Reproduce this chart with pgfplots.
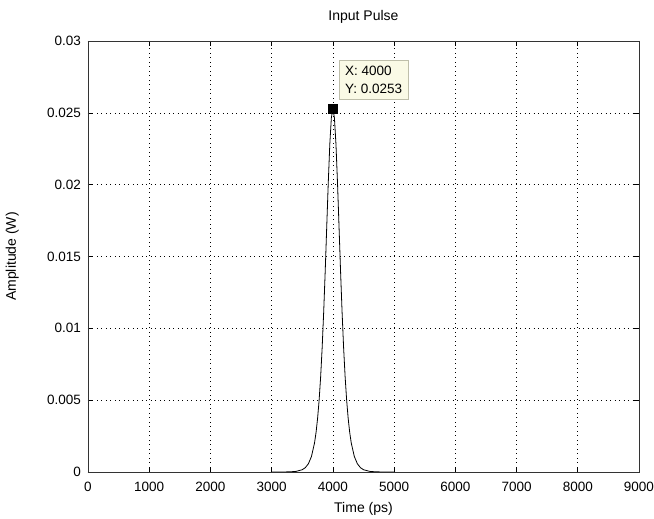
\documentclass[border=0pt]{standalone}
\usepackage{pgfplots}
\pgfplotsset{compat=1.18}
\usepackage{fontspec}
\setmainfont{Liberation Sans}

\definecolor{tipfill}{RGB}{250,250,230}
\definecolor{tipedge}{RGB}{190,190,170}

\begin{document}
\begin{tikzpicture}
\begin{axis}[
    name=ax,
    at={(0,0)}, anchor=south west,
    width=551pt, height=431pt, scale only axis,
    xmin=0, xmax=9000, ymin=0, ymax=0.03,
    xtick={0,1000,...,9000},
    xticklabels={0,1000,2000,3000,4000,5000,6000,7000,8000,9000},
    ytick={0,0.005,0.01,0.015,0.02,0.025,0.03},
    yticklabels={0,0.005,0.01,0.015,0.02,0.025,0.03},
    scaled ticks=false,
    tick align=inside, major tick length=5pt,
    xtick pos=both, ytick pos=both,
    tick style={black, line width=0.6pt},
    axis line style={black!80, line width=0.9pt},
    grid=major,
    grid style={black, line width=0.6pt, dash pattern=on 0.9pt off 3.6pt},
    xticklabel style={font=\fontsize{13.5}{15}\selectfont, anchor=base, inner sep=0pt, yshift=-20pt},
    yticklabel style={font=\fontsize{13.5}{15}\selectfont, anchor=east, inner sep=0pt, xshift=-7pt},
    title={Input Pulse},
    title style={font=\fontsize{14}{16}\selectfont, at={(axis description cs:0.5,1)}, anchor=base, yshift=14pt},
    xlabel={Time (ps)},
    xlabel style={font=\fontsize{14}{16}\selectfont, at={(axis description cs:0.5,0)}, anchor=base, yshift=-41pt},
    ylabel={Amplitude (W)},
    ylabel style={font=\fontsize{14}{16}\selectfont, at={(axis description cs:-0.131,0.5)}, anchor=base, rotate=0},
]
\addplot[black, line width=0.8pt] coordinates {
    (3000,0) (3200,0.000003) (3300,0.000012) (3400,0.000044) (3500,0.000159)
    (3550,0.000303) (3600,0.000574) (3650,0.00108) (3700,0.00202)
    (3725,0.00275) (3750,0.00372) (3775,0.00499) (3800,0.00662)
    (3825,0.00867) (3850,0.01116) (3875,0.01402) (3900,0.01713)
    (3925,0.02019) (3950,0.02284) (3975,0.02465) (4000,0.0253)
    (4025,0.02465) (4050,0.02284) (4075,0.02019) (4100,0.01713)
    (4125,0.01402) (4150,0.01116) (4175,0.00867) (4200,0.00662)
    (4225,0.00499) (4250,0.00372) (4275,0.00275) (4300,0.00202)
    (4350,0.00108) (4400,0.000574) (4450,0.000303) (4500,0.000159)
    (4600,0.000044) (4700,0.000012) (4800,0.000003) (5000,0)
};
% data tip marker
\addplot[only marks, mark=square*, mark size=4.5pt, black] coordinates {(4000,0.0253)};
\node[draw=tipedge, fill=tipfill, anchor=south west, align=left,
      font=\fontsize{13.5}{18}\selectfont, inner xsep=6pt, inner ysep=6pt]
      at (axis cs:4000,0.0253) [xshift=6pt, yshift=9pt] {X: 4000\\Y: 0.0253};
\end{axis}
\pgfresetboundingbox
\path[use as bounding box] (-88pt,-47pt) rectangle (566pt,472pt);
\end{tikzpicture}
\end{document}
